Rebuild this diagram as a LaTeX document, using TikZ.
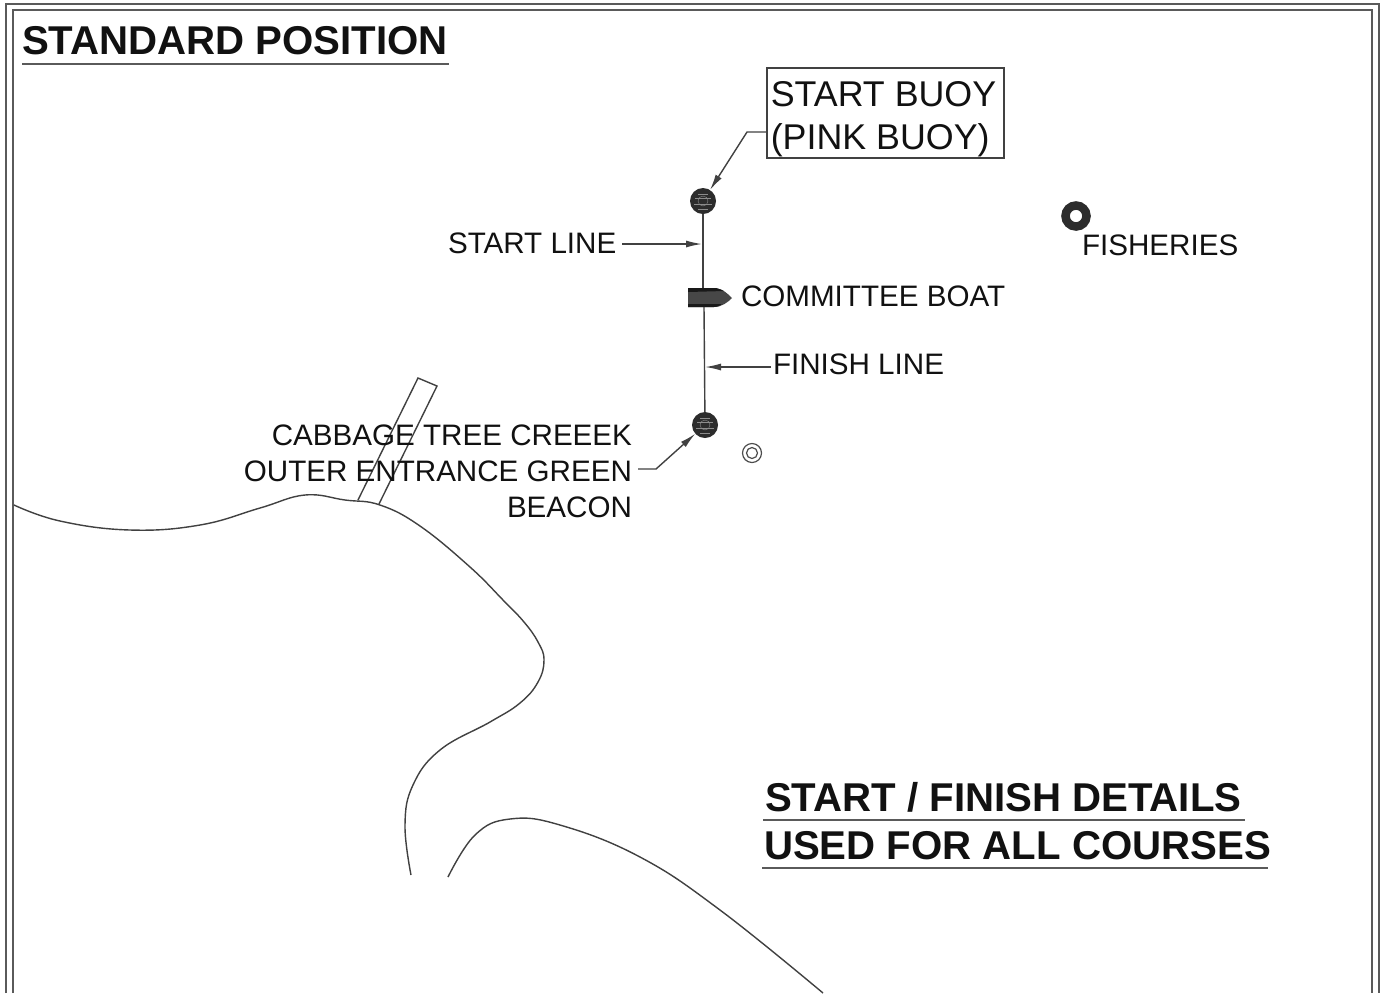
\documentclass[tikz,border=0pt]{standalone}
\usepackage{fontspec}
\setmainfont{Liberation Sans}
\usetikzlibrary{arrows.meta}
\definecolor{ink}{HTML}{111111}
\definecolor{frameink}{HTML}{5A5A5A}
\definecolor{buoyink}{HTML}{2C2C2C}
\tikzset{
  lab/.style={inner sep=0pt,outer sep=0pt,text=ink,font=\fontsize{14.8pt}{18pt}\selectfont},
  head/.style={inner sep=0pt,outer sep=0pt,text=ink,font=\fontsize{20.1pt}{24pt}\selectfont\bfseries},
  thin line/.style={draw=ink!80,line width=0.7pt},
  leader/.style={thin line,-{Latex[length=8pt,width=3.5pt]}},
  buoy/.style={circle,fill=buoyink,minimum size=13pt,inner sep=0pt,outer sep=0pt},
  frameline/.style={draw=frameink,line width=1pt},
  rule/.style={draw=frameink,line width=0.7pt},
  hatch/.style={draw=white!55!black,line width=0.2pt},
}
\begin{document}
\begin{tikzpicture}[x=0.5pt,y=-0.5pt]
\useasboundingbox (0,0) rectangle (1385,993);
\fill[white] (0,0) rectangle (1385,993);
% frame
\draw[frameline] (6,993) -- (6,4) -- (1379,4) -- (1379,993);
\draw[frameline] (13,993) -- (13,10) -- (1372,10) -- (1372,993);
% shoreline
\draw[thin line,line join=round] plot[smooth,tension=0.7] coordinates {(14,505) (60,521) (130,530) (200,525) (260,508) (305,495) (345,500) (380,505) (420,526) (470,567) (503,600) (524,622) (538,642) (544,660) (538,682) (520,703) (490,722) (440,750) (413,785) (405,825) (411,875)};
\draw[thin line] plot[smooth,tension=0.7] coordinates {(448,877) (475,835) (510,819) (560,825) (640,857) (720,910) (823,993)};
% creek channel
\draw[thin line,line join=miter] (358,500) -- (418,378) -- (437,386) -- (379,504);
% titles
\node[head,anchor=base west] (title) at (22,54) {STANDARD POSITION};
\draw[rule] (22,64) -- (449,64);
\node[head,anchor=base west] (det1) at (765,811) {START / FINISH DETAILS};
\draw[rule] (763,820) -- (1245,820);
\node[head,anchor=base west] (det2) at (764,859) {USED FOR ALL COURSES};
\draw[rule] (762,868) -- (1268,868);
% buoys
\node[buoy] (startbuoy) at (703,201) {};
\node[buoy] (finishbuoy) at (705,425) {};
\foreach \b/\cx/\cy in {startbuoy/703/201,finishbuoy/705/425}{
  \draw[hatch] (\cx-8,\cy-3) -- (\cx+8,\cy-3) (\cx-9,\cy+3) -- (\cx+9,\cy+3) (\cx-5,\cy-7) -- (\cx+5,\cy-7) (\cx-5,\cy+8) -- (\cx+5,\cy+8);
  \draw[hatch] (\cx,\cy) circle[radius=5];
}
% committee boat
\coordinate (boatN) at (703,288);
\coordinate (boatS) at (704,307);
\draw[thin line] (startbuoy) -- (boatN);
\draw[thin line] (boatS) -- (finishbuoy);
\path[fill=black!72!white] (688,288) -- (716,288) .. controls (723,289) and (728,294) .. (732,298) .. controls (728,302) and (722,307) .. (714,307) -- (688,307) -- cycle;
\path[fill=black!90!white] (688,288) -- (716,288) .. controls (719,289) and (722,290) .. (724,291) -- (688,292) -- cycle;
\path[fill=black!90!white] (688,304) -- (722,304) .. controls (720,306) and (717,307) .. (714,307) -- (688,307) -- cycle;
% labels
\node[lab,anchor=base west] (startlbl) at (448,253) {START LINE};
\node[lab,anchor=base west] (boatlbl) at (741,306) {COMMITTEE BOAT};
\node[lab,anchor=base west] (finishlbl) at (773,374) {FINISH LINE};
\node[lab,anchor=base west] (fishlbl) at (1082,255) {FISHERIES};
\node[lab,align=right,anchor=base east] (creeklbl) at (632,517) {CABBAGE TREE CREEEK\\OUTER ENTRANCE GREEN\\BEACON};
\node[draw=ink!80,line width=0.7pt,inner sep=0pt,outer sep=0pt,minimum width=118.5pt,minimum height=45pt,align=left,text=ink,font=\fontsize{17.9pt}{21.5pt}\selectfont] (startbox) at (885.5,113) {\rule{0pt}{18.5pt}START BUOY\hspace*{2pt}\\(PINK BUOY)};
% leaders
\coordinate (startline) at (702,244);
\coordinate (finishline) at (705,367);
\coordinate (boxknee) at (747,132);
\coordinate (creekknee) at (656,469);
\coordinate (creekstart) at (638,469);
\draw[leader] (startlbl.east |- startline) ++(6,0) -- (startline);
\draw[leader] (finishlbl.west |- finishline) ++(-2,0) -- (finishline);
\draw[leader] (startbox.west |- boxknee) -- (boxknee) -- (startbuoy);
\draw[leader] (creekstart) -- (creekknee) -- (finishbuoy);
% beacon and fisheries
\node[circle,draw=ink!75,line width=0.6pt,minimum size=9.5pt,inner sep=0pt] (beacon) at (752,453) {};
\draw[ink!75,line width=0.6pt] (beacon) circle[radius=5.5];
\node[circle,draw=buoyink,line width=4.25pt,fill=white,minimum size=10.5pt,inner sep=0pt,outer sep=0pt] (fisheries) at (1076,216) {};
\end{tikzpicture}
\end{document}
